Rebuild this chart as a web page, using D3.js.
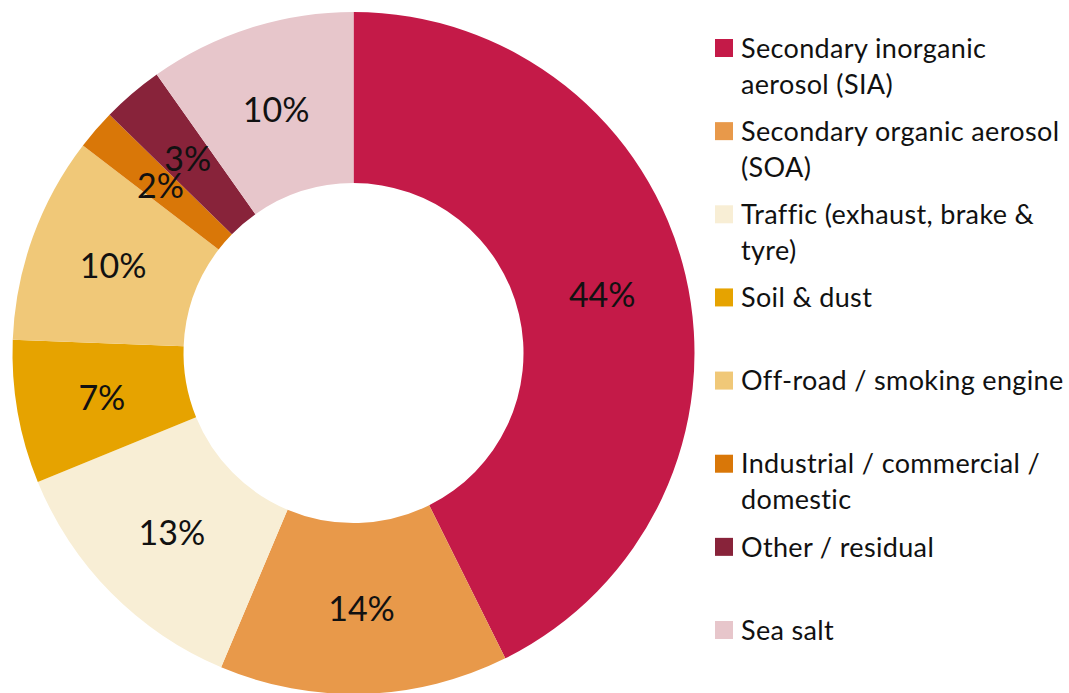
<!DOCTYPE html>
<html>
<head>
<meta charset="utf-8">
<script src="https://cdn.jsdelivr.net/npm/d3@7"></script>
<style>
  body { margin: 0; background: #fff; }
  text { font-family: Lato, "Open Sans", sans-serif; fill: #111; }
</style>
</head>
<body>
<div id="chart"></div>
<script>
// data (shares in %, as drawn by the slice angles)
const categories = [
  "Secondary inorganic\naerosol (SIA)",
  "Secondary organic aerosol\n(SOA)",
  "Traffic (exhaust, brake &\ntyre)",
  "Soil & dust",
  "Off-road / smoking engine",
  "Industrial / commercial /\ndomestic",
  "Other / residual",
  "Sea salt"
];
const shares = [42.7, 13.7, 12.5, 6.8, 9.8, 1.9, 2.9, 9.8];
const shareLabels = ["44%", "14%", "13%", "7%", "10%", "2%", "3%", "10%"];
const colors = ["#c41a48", "#e8994a", "#f8eed5", "#e6a300", "#f0c878", "#d97708", "#88233a", "#e7c6cb"];

let width = 1069,
    height = 693,
    cx = 353.5, cy = 353,
    outer = 341, inner = 170;

const svg = d3.select("#chart")
  .append("svg")
  .attr("width", width)
  .attr("height", height)
  .attr("viewBox", [0, 0, width, height]);

const data = categories.map((c, i) => ({ name: c, value: shares[i], label: shareLabels[i], color: colors[i] }));

const pie = d3.pie().sort(null).value(d => d.value);
const arc = d3.arc().innerRadius(inner).outerRadius(outer);
const arcs = pie(data);

const g = svg.append("g").attr("transform", `translate(${cx},${cy})`);

g.selectAll("path")
  .data(arcs)
  .join("path")
  .attr("d", arc)
  .attr("fill", d => d.data.color);

g.selectAll("text")
  .data(arcs)
  .join("text")
  .attr("transform", d => `translate(${arc.centroid(d)})`)
  .attr("text-anchor", "middle")
  .attr("dy", "0.36em")
  .style("font-size", "34px")
  .text(d => d.data.label);

// legend
let y = d3.scalePoint()
  .domain(categories)
  .range([48, 630]);

const legend = svg.append("g")
  .selectAll("g")
  .data(data)
  .join("g")
  .attr("transform", d => `translate(715,${y(d.name)})`);

legend.append("rect")
  .attr("y", -9)
  .attr("width", 18)
  .attr("height", 18)
  .attr("fill", d => d.color);

legend.append("text")
  .attr("x", 26)
  .style("font-size", "27px")
  .style("letter-spacing", "0.35px")
  .selectAll("tspan")
  .data(d => d.name.split("\n"))
  .join("tspan")
  .attr("x", 26)
  .attr("y", (d, i) => i * 36)
  .attr("dy", "0.36em")
  .text(d => d);
</script>
</body>
</html>
